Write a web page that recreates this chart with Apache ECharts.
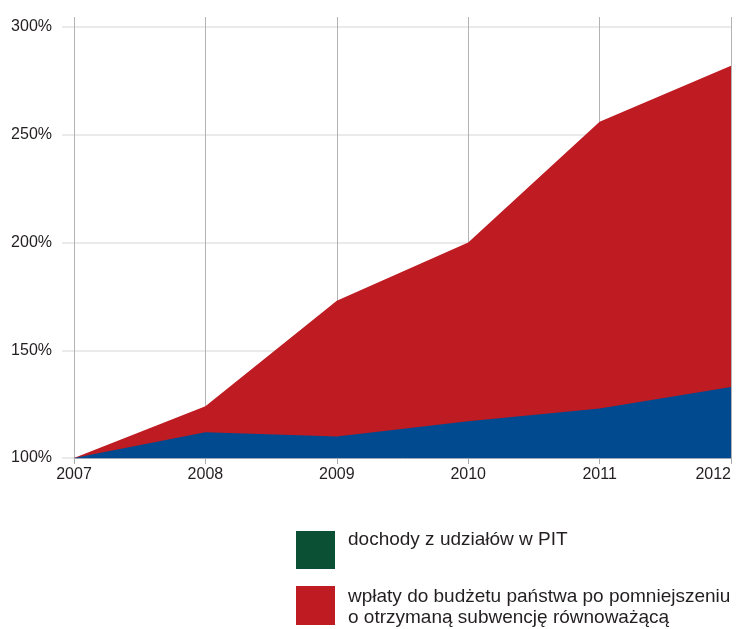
<!DOCTYPE html>
<html>
<head>
<meta charset="utf-8">
<script src="https://cdn.jsdelivr.net/npm/echarts@6/dist/echarts.min.js"></script>
<style>
  html, body { margin: 0; padding: 0; background: #fff; }
  #chart { width: 736px; height: 629px; }
</style>
</head>
<body>
<div id="chart"></div>
<script>
const years = ['2007', '2008', '2009', '2010', '2011', '2012'];
// share in PIT (bottom area)
const pitIncome = [100, 112, 110, 117, 123, 133];
// total incl. payments to state budget (top of red area)
const totalWithPayments = [100, 124, 173, 200, 256, 282];

const legendPit = 'dochody z udziałów w PIT';
const legendPayments = 'wpłaty do budżetu państwa po pomniejszeniu\no otrzymaną subwencję równoważącą';

const FONT = '"Liberation Sans", Arial, sans-serif';
const TEXT = '#231f20';

const chart = echarts.init(document.getElementById('chart'));

chart.setOption({
  animation: false,
  grid: [
    { left: 74, right: 5, top: 27, bottom: 171, outerBoundsMode: 'none' },
    // taller grid used only for the vertical year lines
    { left: 74, right: 5, top: 17, bottom: 171, outerBoundsMode: 'none' }
  ],
  xAxis: [
    {
      type: 'category',
      data: years,
      boundaryGap: false,
      axisLine: { show: true, lineStyle: { color: '#9aa7b8', width: 1 } },
      axisTick: { show: true, length: 6, lineStyle: { color: '#aaa' } },
      axisLabel: {
        color: TEXT, fontFamily: FONT, fontSize: 16, margin: 9,
        alignMaxLabel: 'right'
      },
      splitLine: { show: false }
    },
    {
      type: 'category',
      gridIndex: 1,
      data: years,
      boundaryGap: false,
      axisLine: { show: false },
      axisTick: { show: false },
      axisLabel: { show: false },
      splitLine: { show: true, lineStyle: { color: '#b3b3b3', width: 1 } }
    }
  ],
  yAxis: [
    {
      type: 'value',
      min: 100,
      max: 300,
      interval: 50,
      axisLine: { show: false },
      axisTick: { show: true, length: 12, lineStyle: { color: '#e3e3e3', width: 1.5 } },
      axisLabel: {
        color: TEXT, fontFamily: FONT, fontSize: 16, margin: 22,
        formatter: v => v + '%'
      },
      splitLine: { show: true, lineStyle: { color: '#e3e3e3', width: 1.5 } }
    },
    {
      type: 'value',
      gridIndex: 1,
      show: false
    }
  ],
  series: [
    {
      name: legendPayments,
      type: 'line',
      data: totalWithPayments,
      showSymbol: false,
      lineStyle: { width: 0 },
      areaStyle: { color: '#be1b22', opacity: 1 },
      z: 3
    },
    {
      name: legendPit,
      type: 'line',
      data: pitIncome,
      showSymbol: false,
      lineStyle: { width: 0 },
      areaStyle: { color: '#024a8f', opacity: 1 },
      z: 4
    }
  ],
  graphic: [
    { type: 'rect', left: 296, top: 531, shape: { width: 39, height: 38 }, style: { fill: '#0b5034' } },
    {
      type: 'text', left: 348, top: 530,
      style: { text: legendPit, font: '19px ' + FONT, fill: TEXT }
    },
    { type: 'rect', left: 296, top: 586, shape: { width: 39, height: 39 }, style: { fill: '#be1b22' } },
    {
      type: 'text', left: 348, top: 586,
      style: { text: legendPayments, font: '19px ' + FONT, fill: TEXT, lineHeight: 21 }
    }
  ]
});
</script>
</body>
</html>
